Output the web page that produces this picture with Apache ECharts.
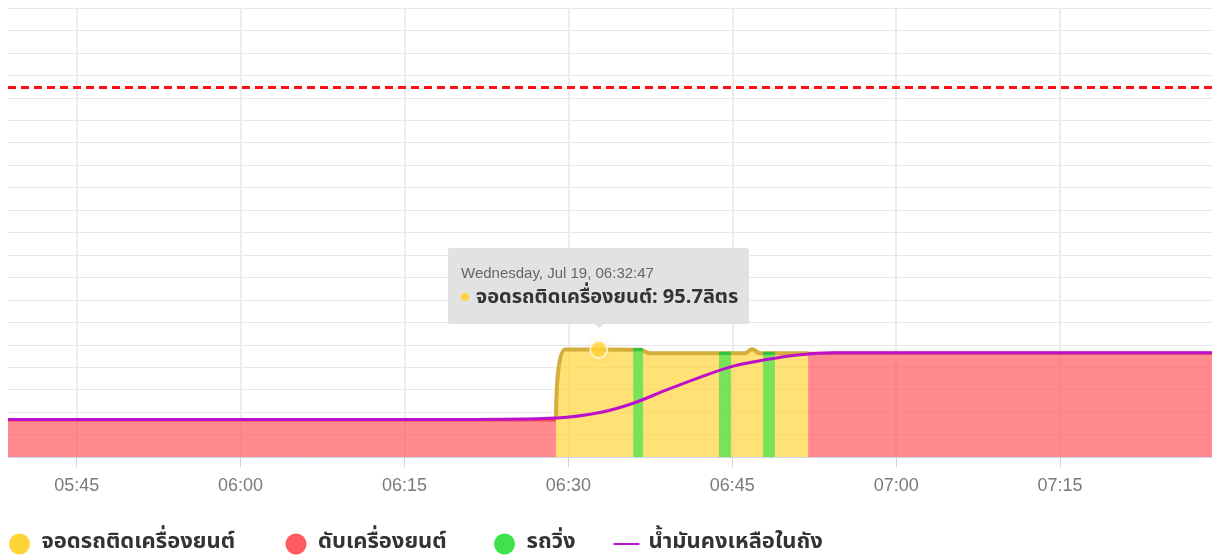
<!DOCTYPE html>
<html>
<head>
<meta charset="utf-8">
<script src="https://cdn.jsdelivr.net/npm/echarts@6/dist/echarts.min.js"></script>
<style>
  html, body { margin: 0; padding: 0; background: #fff; }
  #main { width: 1219px; height: 558px; }
</style>
</head>
<body>
<div id="main"></div>
<script>
// time helper, all times on Wed 19 Jul 2023
const toTime = (hms) => {
  const p = hms.split(':').map(Number)
  return new Date(2023, 6, 19, p[0], p[1], p[2] || 0).getTime()
}

// visible time range
const xStart = '05:38:43'
const xEnd = '07:28:54'

// series names (legend)
const names = ['จอดรถติดเครื่องยนต์', 'ดับเครื่องยนต์', 'รถวิ่ง', 'น้ำมันคงเหลือในถัง']

// จอดรถติดเครื่องยนต์ (idle), litres
const idleData = [
  ['06:28:52', 35], ['06:29:41', 95.7], ['06:32:47', 95.7], ['06:36:33', 95.5],
  ['06:37:28', 92.5], ['06:46:10', 92.5], ['06:46:48', 96], ['06:47:32', 92.5],
  ['06:51:56', 92.5]
]
// ดับเครื่องยนต์ (engine off), null = gap
const offData = [
  [xStart, 33], ['06:28:52', 33], ['06:40:00', null],
  ['06:51:56', 92.5], [xEnd, 92.5]
]
// รถวิ่ง (driving)
const driveData = [
  ['06:35:56', 95.7], ['06:36:50', 95.7], ['06:40:00', null],
  ['06:43:47', 92.5], ['06:44:53', 92.5], ['06:46:30', null],
  ['06:47:49', 92.5], ['06:48:54', 92.5]
]
// น้ำมันคงเหลือในถัง (fuel in tank)
const fuelData = [
  [xStart, 33.5], ['06:00:00', 33.5], ['06:20:00', 33.5],
  ['06:28:56', 34.8], ['06:32:53', 39.6], ['06:35:56', 47.9], ['06:38:59', 59.8],
  ['06:42:02', 71.0], ['06:45:05', 81.0], ['06:48:09', 86.8], ['06:51:12', 91.0],
  ['06:54:13', 92.8], ['07:05:00', 92.8], [xEnd, 92.8]
]
// hovered point shown in the tooltip
const tipPoint = [['06:32:47', 95.7]]
const tipDate = 'Wednesday, Jul 19, 06:32:47'
const fuelLimit = 329
const xTicks = ['05:45', '06:00', '06:15', '06:30', '06:45', '07:00', '07:15', '07:30']

const toSeries = (arr) => arr.map(d => [toTime(d[0]), d[1] == null ? '-' : d[1]])
const pad = (n) => (n < 10 ? '0' : '') + n

const thaiFont = "'Noto Sans Thai', 'Noto Sans', 'DejaVu Sans', sans-serif"
// fixed text box widths so legend items sit where the reference has them
const legendText = (w) => ({ width: w, backgroundColor: 'rgba(0,0,0,0)', padding: [6, 0, 0, 4] })

const chart = echarts.init(document.getElementById('main'))
chart.setOption({
  animation: false,
  grid: { left: 8, right: 7, top: 8, bottom: 101, containLabel: false, outerBoundsMode: 'none' },
  tooltip: {
    trigger: 'item',
    triggerOn: 'none',
    alwaysShowContent: true,
    position: 'top',
    transitionDuration: 0,
    backgroundColor: '#e2e2e2',
    borderColor: '#e2e2e2',
    borderWidth: 0,
    borderRadius: 2,
    padding: [16, 13, 12, 13],
    extraCssText: 'box-shadow:none;margin-top:-8px;width:275px;box-sizing:content-box;',
    formatter: (p) =>
      '<div style="font-size:15px;color:#666;line-height:18px">' + tipDate + '</div>' +
      '<div style="font-family:' + thaiFont.replace(/'/g, '&quot;') + ';font-size:20px;font-weight:bold;color:#333;line-height:30px;white-space:nowrap">' +
      '<span style="display:inline-block;width:8px;height:8px;border-radius:4px;background:#ffd43b;margin-right:7px;vertical-align:middle"></span>' +
      p.seriesName + ': ' + p.value[1] + 'ลิตร</div>'
  },
  legend: {
    left: 4,
    top: 525,
    itemWidth: 26,
    itemHeight: 21,
    itemGap: 28,
    textStyle: { fontFamily: thaiFont, fontSize: 22, fontWeight: 'bold', color: '#333' },
    data: [
      { name: names[0], icon: 'circle', textStyle: legendText(216) },
      { name: names[1], icon: 'circle', textStyle: legendText(148) },
      { name: names[2], icon: 'circle', textStyle: legendText(58) },
      { name: names[3], itemStyle: { opacity: 0 }, textStyle: legendText(192) }
    ]
  },
  xAxis: {
    type: 'value',
    min: toTime(xStart),
    max: toTime(xEnd),
    axisLine: { lineStyle: { color: '#ccd6eb', width: 1 } },
    axisTick: { show: true, length: 10, lineStyle: { color: '#ccd6eb' }, customValues: xTicks.map(toTime) },
    axisLabel: {
      customValues: xTicks.map(toTime),
      margin: 20,
      fontSize: 18,
      color: '#7a7a7a',
      formatter: (v) => { const d = new Date(v); return pad(d.getHours()) + ':' + pad(d.getMinutes()) }
    },
    splitLine: { show: true, lineStyle: { color: '#ececec', width: 2 } }
  },
  yAxis: {
    type: 'value',
    min: 0,
    max: 400,
    interval: 20,
    axisLabel: { show: false },
    axisLine: { show: false },
    axisTick: { show: false },
    splitLine: { lineStyle: { color: '#e8e8e8', width: 1 } }
  },
  series: [
    {
      name: names[1],
      type: 'line',
      color: '#ff5a5f',
      symbol: 'none',
      data: toSeries(offData),
      lineStyle: { color: '#ee4a52', width: 3 },
      areaStyle: { color: '#ff5a5f', opacity: 0.7 },
      z: 2
    },
    {
      name: names[0],
      type: 'line',
      color: '#ffd43b',
      symbol: 'none',
      smooth: 0.4,
      data: toSeries(idleData),
      lineStyle: { color: '#d4ae3a', width: 4 },
      areaStyle: { color: '#ffd43b', opacity: 0.7 },
      z: 2
    },
    {
      name: names[2],
      type: 'line',
      color: '#3ee24c',
      symbol: 'none',
      data: toSeries(driveData),
      lineStyle: { color: '#33c041', width: 3 },
      areaStyle: { color: '#3ee24c', opacity: 0.7 },
      z: 3
    },
    {
      name: names[3],
      type: 'line',
      color: '#bc10cc',
      symbol: 'none',
      smooth: 0.35,
      data: toSeries(fuelData),
      lineStyle: { color: '#bc10cc', width: 3 },
      z: 4,
      markLine: {
        silent: true,
        symbol: 'none',
        label: { show: false },
        lineStyle: { color: '#ff0f0f', width: 3, type: [8, 5] },
        data: [{ yAxis: fuelLimit }]
      }
    },
    {
      name: names[0],
      type: 'scatter',
      data: toSeries(tipPoint),
      symbolSize: 17,
      itemStyle: { color: '#ffd43b', borderColor: 'rgba(255,255,255,0.85)', borderWidth: 2,
        shadowColor: 'rgba(255,212,59,0.35)', shadowBlur: 6 },
      emphasis: { disabled: true },
      z: 6
    }
  ]
})
chart.dispatchAction({ type: 'showTip', seriesIndex: 4, dataIndex: 0 })
</script>
</body>
</html>
